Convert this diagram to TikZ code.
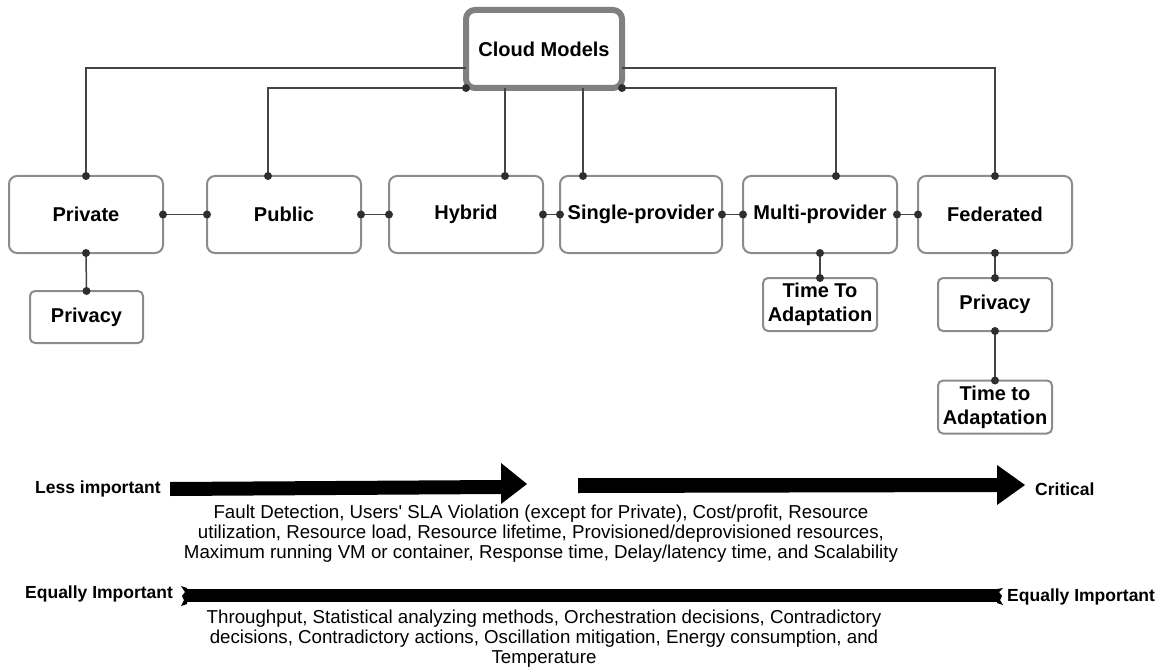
\documentclass[tikz,border=0pt]{standalone}
\usepackage{fontspec}
\setmainfont{Liberation Sans}
\usetikzlibrary{calc}
\definecolor{boxgray}{HTML}{8C8C8C}
\definecolor{cloudgray}{HTML}{808080}
\definecolor{linec}{HTML}{444444}
\definecolor{dotc}{HTML}{2E2E2E}
\begin{document}
\begin{tikzpicture}[x=1pt,y=-1pt,
  bigbox/.style={draw=boxgray, line width=2pt, rounded corners=8pt, minimum width=154pt, minimum height=77pt, inner sep=0pt, outer sep=0pt, fill=white, font=\fontsize{20}{24}\selectfont\bfseries},
  smallbox/.style={draw=boxgray, line width=2pt, rounded corners=5pt, minimum width=114pt, minimum height=53pt, inner sep=0pt, outer sep=0pt, fill=white, align=center, font=\fontsize{20}{24}\selectfont\bfseries},
  cloudbox/.style={draw=cloudgray, line width=6pt, rounded corners=9pt, minimum width=156pt, minimum height=78pt, inner sep=0pt, outer sep=0pt, fill=white, font=\fontsize{20}{24}\selectfont\bfseries},
  conn/.style={draw=linec, line width=1.5pt},
  lbl/.style={inner sep=0pt, font=\fontsize{17.5}{20}\selectfont\bfseries},
  body/.style={inner sep=0pt, align=center, font=\fontsize{18.7}{20}\selectfont},
  dotfill/.style={fill=dotc},
]
\useasboundingbox (0,0) rectangle (1169,671);
\fill[white] (0,0) rectangle (1169,671);

% nodes
\node[cloudbox] (cloud) at (544,49) {Cloud Models};
\node[bigbox] (priv) at (86,214.5) {Private};
\node[bigbox] (pub) at (284,214.5) {Public};
\node[bigbox] (hyb) at (466,214.5) {Hybrid};
\node[bigbox, minimum width=162pt] (single) at (641,214.5) {Single-provider};
\node[bigbox] (multi) at (820,214.5) {Multi-provider};
\node[bigbox] (fed) at (995,214.5) {Federated};

\node[smallbox, minimum width=113pt, minimum height=52pt] (privA) at (86.5,317) {Privacy};
\node[smallbox] (tta) at (820,304.5) {Time To\\Adaptation};
\node[smallbox] (privB) at (995,304.5) {Privacy};
\node[smallbox] (ttb) at (995,407) {Time to\\Adaptation};

% connection points
\coordinate (pubtop) at ($(pub.north)+(-16,0)$);
\coordinate (hybtop) at ($(hyb.north)+(39,0)$);
\coordinate (sintop) at ($(single.north)+(-58,0)$);
\coordinate (multop) at ($(multi.north)+(16,0)$);
\coordinate (cl) at (cloud.west |- 0,68);
\coordinate (cr) at (cloud.east |- 0,68);

% connectors
\draw[conn] (cl) -| (priv.north);
\draw[conn] (cr) -| (fed.north);
\draw[conn] (cloud.south west) -| (pubtop);
\draw[conn] (cloud.south east) -| (multop);
\draw[conn] (cloud.south -| hybtop) -- (hybtop);
\draw[conn] (cloud.south -| sintop) -- (sintop);
\draw[conn] (priv.east) -- (pub.west);
\draw[conn] (pub.east) -- (hyb.west);
\draw[conn] (hyb.east) -- (single.west);
\draw[conn] (single.east) -- (multi.west);
\draw[conn] (multi.east) -- (fed.west);
\draw[conn] (priv.south) -- (privA.north);
\draw[conn] (multi.south) -- (tta.north);
\draw[conn] (fed.south) -- (privB.north);
\draw[conn] (privB.south) -- (ttb.north);

\foreach \p in {priv.north, fed.north, cloud.south west, cloud.south east, pubtop, multop, hybtop, sintop,
  priv.east, pub.west, pub.east, hyb.west, hyb.east, single.west, single.east, multi.west, multi.east, fed.west,
  priv.south, privA.north, multi.south, tta.north, fed.south, privB.north, privB.south, ttb.north}
  \fill[dotfill] (\p) circle (4);

% importance scale
\node[lbl, anchor=west] (less) at (35,489) {Less important};
\node[lbl, anchor=west] (crit) at (1035,489) {Critical};
\fill (170,482) -- (501,480) -- (501,463) -- (527,484) -- (501,504) -- (501,494) -- (170,496) -- cycle;
\fill (578,478) -- (997,478) -- (997,465) -- (1025,485) -- (997,505) -- (997,492) -- (578,493) -- cycle;

\node[body] (t1) at (541,534) {Fault Detection, Users\textquotesingle{} SLA Violation (except for Private), Cost/profit, Resource\\utilization, Resource load, Resource lifetime, Provisioned/deprovisioned resources,\\Maximum running VM or container, Response time, Delay/latency time, and Scalability};

\node[lbl, anchor=west] (eqA) at (25,594) {Equally Important};
\node[lbl, anchor=west] (eqB) at (1007,597) {Equally Important};
\fill (186,589) rectangle (998,602);
\fill (181,586) -- (187,588) -- (187,604) -- (181,606) -- (184,600) -- (182,596) -- (185,592) -- cycle;
\fill (1003,588) -- (997,589) -- (997,603) -- (1003,605) -- (1000,600) -- (1002,596) -- (999,592) -- cycle;

\node[body] (t2) at (544,639) {Throughput, Statistical analyzing methods, Orchestration decisions, Contradictory\\decisions, Contradictory actions, Oscillation mitigation, Energy consumption, and\\Temperature};
\end{tikzpicture}
\end{document}
